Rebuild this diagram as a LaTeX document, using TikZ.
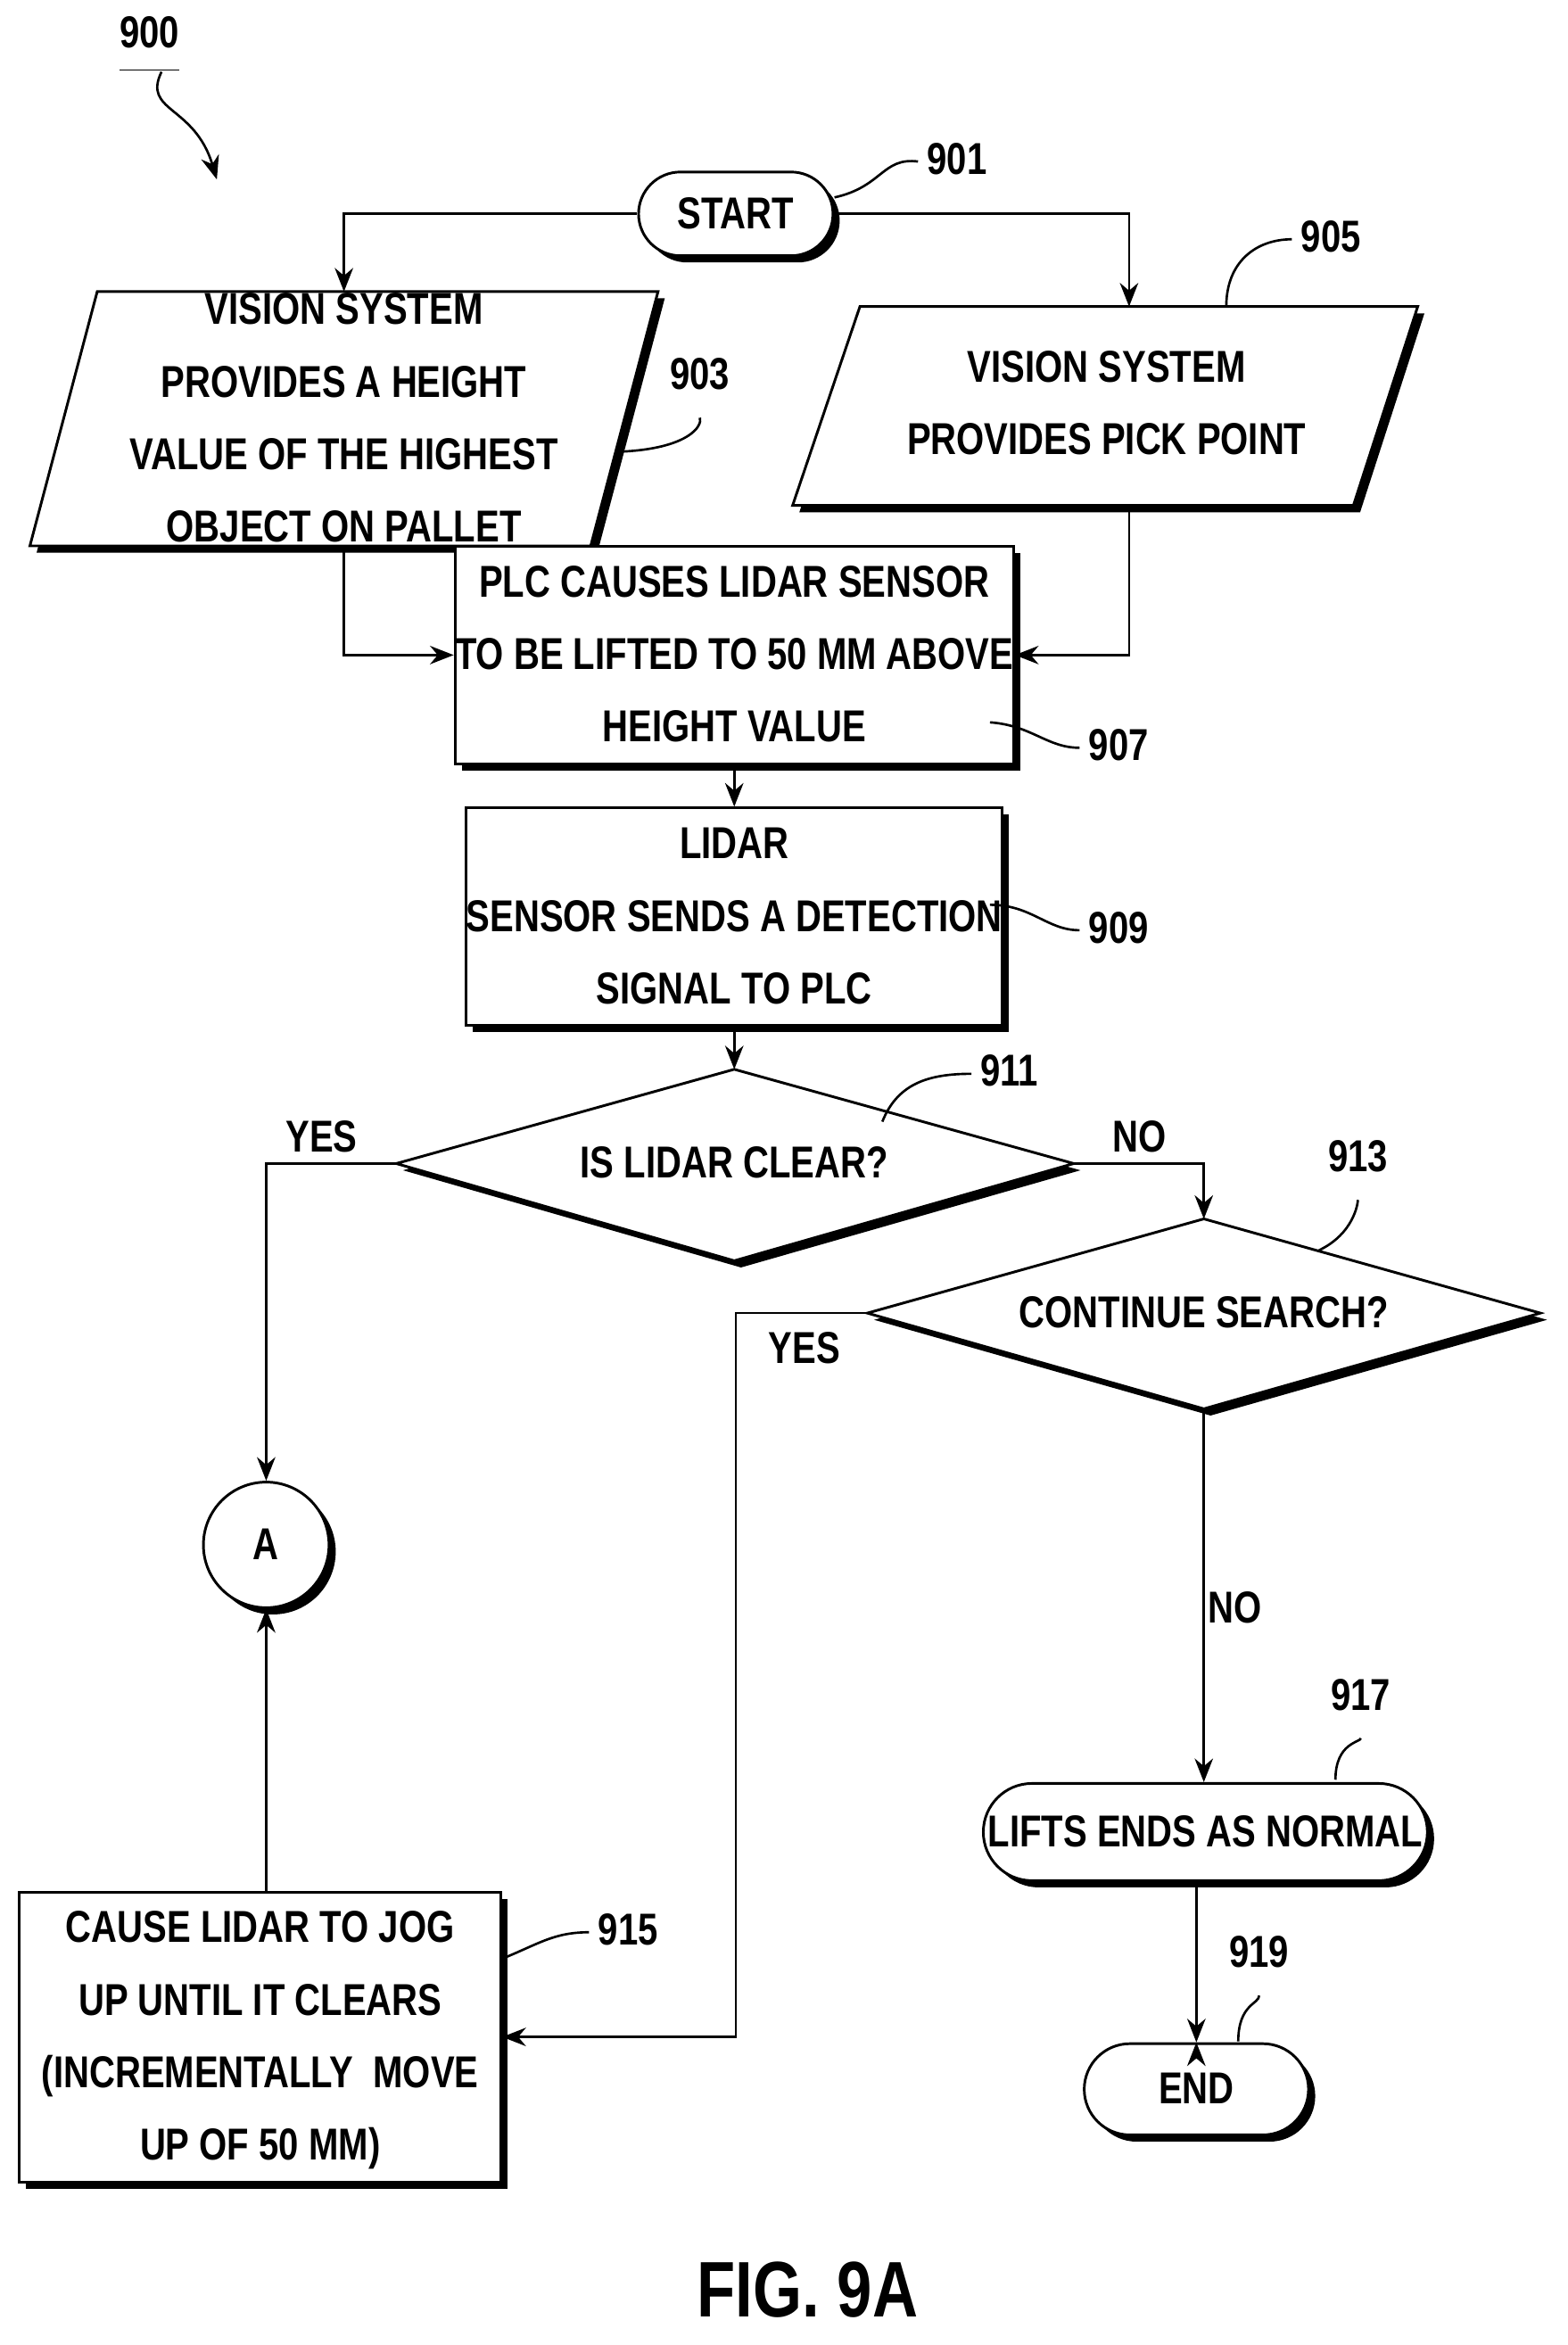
\documentclass[tikz,border=0pt]{standalone}
\usepackage{fontspec}
\usepackage{graphicx}
\setmainfont{Liberation Sans}
\newcommand{\ct}[1]{\scalebox{0.8}[1]{\begin{tabular}{@{}c@{}}#1\end{tabular}}}
\usetikzlibrary{shapes.geometric,shadows,arrows.meta}
\begin{document}
\begin{tikzpicture}[x=0.02cm,y=-0.02cm,
  every node/.style={font=\fontsize{17}{23}\selectfont\bfseries},
  shd/.style={drop shadow={shadow xshift=0.09cm,shadow yshift=-0.09cm,fill=black,opacity=1}},
  box/.style={draw,line width=1pt,fill=white,shd,inner sep=0pt},
  term/.style={box},
  arr/.style={-{Stealth[length=9pt,width=7pt]},line width=0.9pt},
  lead/.style={line width=0.9pt},
  lbl/.style={font=\fontsize{17}{20}\selectfont\bfseries}]
\useasboundingbox (0,0) rectangle (1048,1568);
\renewcommand{\arraystretch}{1.2}
% 900
\node[lbl] (l900) at (100,25) {\underline{\ct{900}}};
\draw[arr] (108,48) .. controls (95,75) and (130,70) .. (145,120);
% start
\node[term,minimum width=2.6cm,minimum height=1.12cm,rounded corners=0.56cm] (start) at (492,143) {\ct{START}};
% 903
\filldraw[line width=1pt,fill=white,shd] (65,195)--(440,195)--(395,365)--(20,365)--cycle;
\node (n903) at (230,280) {\ct{VISION SYSTEM\\PROVIDES A HEIGHT\\VALUE OF THE HIGHEST\\OBJECT ON PALLET}};
\coordinate (t903) at (230,195); \coordinate (b903) at (230,365);
% 905
\filldraw[line width=1pt,fill=white,shd] (575,205)--(948,205)--(905,338)--(530,338)--cycle;
\node (n905) at (740,270) {\ct{VISION SYSTEM\\PROVIDES PICK POINT}};
\coordinate (t905) at (755,205); \coordinate (b905) at (755,338);
% 907 909
\node[box,minimum width=6.84cm,minimum height=2.46cm] (n907) at (491,438) {\ct{PLC CAUSES LIDAR SENSOR\\TO BE LIFTED TO 50 MM ABOVE\\HEIGHT VALUE}};
\node[box,minimum width=6.84cm,minimum height=2.5cm] (n909) at (491,613) {\ct{LIDAR\\SENSOR SENDS A DETECTION\\SIGNAL TO PLC}};
% 911 diamond
\coordinate (d1t) at (491,715); \coordinate (d1l) at (265,778); \coordinate (d1r) at (718,778); \coordinate (d1b) at (491,843);
\filldraw[line width=1pt,fill=white,shd] (d1t)--(d1r)--(d1b)--(d1l)--cycle;
\node (n911) at (491,778) {\ct{IS LIDAR CLEAR?}};
% 913 diamond
\coordinate (d2t) at (805,815); \coordinate (d2l) at (580,878); \coordinate (d2r) at (1030,878); \coordinate (d2b) at (805,942);
\filldraw[line width=1pt,fill=white,shd] (d2t)--(d2r)--(d2b)--(d2l)--cycle;
\node (n913) at (805,878) {\ct{CONTINUE SEARCH?}};
\node[draw,circle,line width=1pt,fill=white,shd,minimum size=1.68cm] (A) at (178,1033) {\ct{A}};
\node[box,minimum width=6.44cm,minimum height=3.1cm] (n915) at (174,1362) {\ct{CAUSE LIDAR TO JOG\\UP UNTIL IT CLEARS\\(INCREMENTALLY\ \ MOVE\\UP OF 50 MM)}};
\node[term,minimum width=5.94cm,minimum height=1.3cm,rounded corners=0.65cm] (n917) at (806,1225) {\ct{LIFTS ENDS AS NORMAL}};
\node[term,minimum width=3cm,minimum height=1.22cm,rounded corners=0.61cm] (end) at (800,1397) {\ct{END}};
% connectors
\draw[arr] (start.west) -| (t903);
\draw[arr] (start.east) -| (t905);
\draw[arr] (b903) |- (n907.west);
\draw[arr] (b905) |- (n907.east);
\draw[arr] (n907) -- (n909);
\draw[arr] (n909) -- (d1t);
\draw[arr] (d1l) -| (A.north);
\draw[arr] (d1r) -| (d2t);
\coordinate (c1) at (492,878);
\draw[arr] (d2l) -- (c1) |- (n915.east);
\draw[arr] (d2b) -- (d2b |- n917.north);
\draw[arr] (end.north -| 800,0) ++(0,-0.0) ;
\draw[arr] (n917.south -| end.north) -- (end.north);
\draw[arr] (n915.north -| A.south) -- (A.south);
% labels
\node[lbl] (y1) at (215,762) {\ct{YES}};
\node[lbl] (no1) at (762,762) {\ct{NO}};
\node[lbl] (y2) at (538,903) {\ct{YES}};
\node[lbl] (no2) at (826,1077) {\ct{NO}};
\node[lbl] (l901) at (640,108) {\ct{901}};
\draw[lead] (558,132) .. controls (590,125) and (590,105) .. (l901.west);
\node[lbl] (l903) at (468,252) {\ct{903}};
\draw[lead] (415,302) .. controls (460,300) and (470,285) .. (l903.south);
\node[lbl] (l905) at (890,160) {\ct{905}};
\draw[lead] (820,205) .. controls (820,175) and (840,160) .. (l905.west);
\node[lbl] (l907) at (748,500) {\ct{907}};
\draw[lead] (662,483) .. controls (690,485) and (700,500) .. (l907.west);
\node[lbl] (l909) at (748,622) {\ct{909}};
\draw[lead] (662,605) .. controls (690,605) and (700,622) .. (l909.west);
\node[lbl] (l911) at (675,718) {\ct{911}};
\draw[lead] (590,750) .. controls (600,725) and (620,718) .. (l911.west);
\node[lbl] (l913) at (908,775) {\ct{913}};
\draw[lead] (882,836) .. controls (905,825) and (908,805) .. (l913.south);
\node[lbl] (l915) at (420,1292) {\ct{915}};
\draw[lead] (335,1310) .. controls (360,1300) and (370,1292) .. (l915.west);
\node[lbl] (l917) at (910,1135) {\ct{917}};
\draw[lead] (893,1190) .. controls (893,1165) and (910,1165) .. (l917.south);
\node[lbl] (l919) at (842,1307) {\ct{919}};
\draw[lead] (828,1365) .. controls (828,1340) and (842,1340) .. (l919.south);
\node[font=\fontsize{30}{34}\selectfont\bfseries] (fig) at (540,1535) {\ct{FIG. 9A}};
\end{tikzpicture}
\end{document}
